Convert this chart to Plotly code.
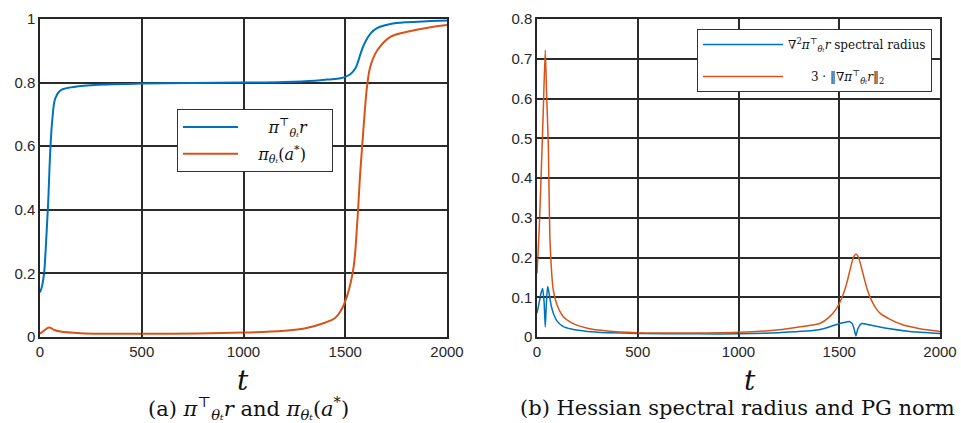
import plotly.graph_objects as go

# ---------- data ----------
t_a_blue = [0, 10, 20, 30, 40, 50, 60, 75, 100, 150, 250, 500, 1000, 1200, 1350, 1420, 1476, 1500,
            1525, 1550, 1565, 1580, 1600, 1625, 1656, 1722, 1804, 1900, 2000]
v_a_blue = [0.14, 0.16, 0.2, 0.3, 0.42, 0.58, 0.68, 0.75, 0.775, 0.785, 0.792, 0.797, 0.80, 0.802, 0.806,
            0.81, 0.814, 0.818, 0.826, 0.845, 0.87, 0.90, 0.93, 0.955, 0.971, 0.984, 0.99, 0.993, 0.995]

t_a_orange = [0, 20, 45, 70, 100, 200, 500, 1000, 1200, 1300, 1400, 1450, 1476, 1508, 1541, 1558, 1574,
              1590, 1607, 1623, 1656, 1722, 1804, 1900, 2000]
v_a_orange = [0.01, 0.02, 0.03, 0.022, 0.017, 0.012, 0.01, 0.014, 0.02, 0.027, 0.045, 0.06, 0.08, 0.127,
              0.22, 0.35, 0.52, 0.66, 0.787, 0.85, 0.90, 0.944, 0.96, 0.972, 0.981]

t_b_blue = [0, 10, 20, 28, 35, 41, 47, 53, 60, 70, 81, 100, 131, 170, 250, 350, 500, 800, 1000, 1200,
            1400, 1504, 1550, 1565, 1575, 1583, 1592, 1611, 1653, 1735, 1850, 2000]
v_b_blue = [0.06, 0.085, 0.11, 0.122, 0.09, 0.025, 0.09, 0.127, 0.11, 0.08, 0.06, 0.04, 0.026, 0.02,
            0.014, 0.011, 0.009, 0.008, 0.008, 0.011, 0.018, 0.034, 0.039, 0.033, 0.018, 0.003, 0.02,
            0.034, 0.03, 0.022, 0.014, 0.009]

t_b_orange = [0, 10, 20, 30, 41, 47, 56, 65, 81, 100, 131, 170, 250, 350, 500, 700, 1000, 1200, 1300,
              1404, 1450, 1487, 1510, 1537, 1555, 1570, 1583, 1596, 1610, 1625, 1640, 1660, 1680, 1702,
              1750, 1818, 1900, 2000]
v_b_orange = [0.16, 0.26, 0.40, 0.55, 0.722, 0.62, 0.487, 0.236, 0.118, 0.08, 0.051, 0.036, 0.022, 0.015,
              0.011, 0.01, 0.012, 0.018, 0.025, 0.034, 0.05, 0.072, 0.095, 0.135, 0.172, 0.2, 0.209, 0.2,
              0.175, 0.145, 0.118, 0.092, 0.074, 0.06, 0.045, 0.03, 0.021, 0.014]

x_ticks = [0, 500, 1000, 1500, 2000]
y_ticks_a = [0, 0.2, 0.4, 0.6, 0.8, 1]
y_tick_labels_a = ["0", "0.2", "0.4", "0.6", "0.8", "1"]
y_ticks_b = [0, 0.1, 0.2, 0.3, 0.4, 0.5, 0.6, 0.7, 0.8]
y_tick_labels_b = ["0", "0.1", "0.2", "0.3", "0.4", "0.5", "0.6", "0.7", "0.8"]

BLUE = "#0072BD"
ORANGE = "#D95319"
SERIF = "DejaVu Serif"
NB = "\u00a0"

fig = go.Figure()
fig.add_trace(go.Scatter(x=t_a_blue, y=v_a_blue, mode="lines", line=dict(color=BLUE, width=2, shape="spline"),
                         name=NB * 5 + "<i>π</i><sup>⊤</sup><sub><i>θₜ</i></sub><i>r</i>" + NB * 4,
                         xaxis="x", yaxis="y", legend="legend", legendgroup="a1"))
fig.add_trace(go.Scatter(x=t_a_orange, y=v_a_orange, mode="lines", line=dict(color=ORANGE, width=2, shape="spline"),
                         name=NB * 3 + "<i>π</i><sub><i>θₜ</i></sub>(<i>a</i><sup>*</sup>)" + NB * 4,
                         xaxis="x", yaxis="y", legend="legend", legendgroup="a2"))
fig.add_trace(go.Scatter(x=t_b_blue, y=v_b_blue, mode="lines",
                         line=dict(color=BLUE, width=1.5, shape="spline", smoothing=0.6),
                         name="∇<sup>2</sup><i>π</i><sup>⊤</sup><sub><i>θₜ</i></sub><i>r</i> spectral radius",
                         xaxis="x2", yaxis="y2", legend="legend2", legendgroup="b1"))
fig.add_trace(go.Scatter(x=t_b_orange, y=v_b_orange, mode="lines",
                         line=dict(color=ORANGE, width=1.5, shape="spline", smoothing=0.6),
                         name=NB * 6 + "3 · ‖∇<i>π</i><sup>⊤</sup><sub><i>θₜ</i></sub><i>r</i>‖<sub>2</sub>",
                         xaxis="x2", yaxis="y2", legend="legend2", legendgroup="b2"))

axis_common = dict(showline=True, mirror=True, linecolor="#262626", linewidth=1.5,
                   showgrid=True, gridcolor="#2b2b2b", gridwidth=1.5, zeroline=False,
                   ticks="inside", ticklen=5, tickcolor="#262626", automargin=False,
                   tickfont=dict(family="Liberation Sans", size=15, color="#262626"))

y0, y1 = 86 / 423, 404 / 423
fig.update_layout(
    width=961, height=423, margin=dict(l=0, r=0, t=0, b=0, autoexpand=False),
    paper_bgcolor="white", plot_bgcolor="white",
    xaxis=dict(domain=[40 / 961, 447 / 961], range=[0, 2000], tickvals=x_ticks, anchor="y", **axis_common),
    yaxis=dict(domain=[y0, y1], range=[0, 1], tickvals=y_ticks_a, ticktext=y_tick_labels_a, anchor="x",
               **axis_common),
    xaxis2=dict(domain=[537 / 961, 940 / 961], range=[0, 2000], tickvals=x_ticks, anchor="y2", **axis_common),
    yaxis2=dict(domain=[y0, y1], range=[0, 0.8], tickvals=y_ticks_b, ticktext=y_tick_labels_b, anchor="x2",
                **axis_common),
    legend=dict(x=177 / 961, y=1 - 109 / 423, xanchor="left", yanchor="top", bgcolor="white",
                bordercolor="#333333", borderwidth=1, font=dict(family=SERIF, size=16, color="#111"),
                itemwidth=55, tracegroupgap=3),
    legend2=dict(x=697 / 961, y=1 - 29 / 423, xanchor="left", yanchor="top", bgcolor="white",
                 bordercolor="#333333", borderwidth=1, font=dict(family=SERIF, size=12, color="#111"),
                 itemwidth=80, tracegroupgap=13),
    showlegend=True,
)

annots = [
    dict(x=243 / 961, y=1 - 380 / 423, text="<i>t</i>", font=dict(family=SERIF, size=28)),
    dict(x=750 / 961, y=1 - 380 / 423, text="<i>t</i>", font=dict(family=SERIF, size=28)),
    dict(x=248 / 961, y=1 - 408 / 423,
         text="(a) <i>π</i><sup>⊤</sup><sub><i>θₜ</i></sub><i>r</i> and <i>π</i><sub><i>θₜ</i></sub>(<i>a</i><sup>*</sup>)",
         font=dict(family=SERIF, size=21)),
    dict(x=737 / 961, y=1 - 408 / 423, text="(b) Hessian spectral radius and PG norm",
         font=dict(family=SERIF, size=21)),
]
for a in annots:
    a.update(xref="paper", yref="paper", showarrow=False, xanchor="center", yanchor="middle")
    a["font"]["color"] = "#111"
fig.update_layout(annotations=annots)

fig.write_html("out.html")
